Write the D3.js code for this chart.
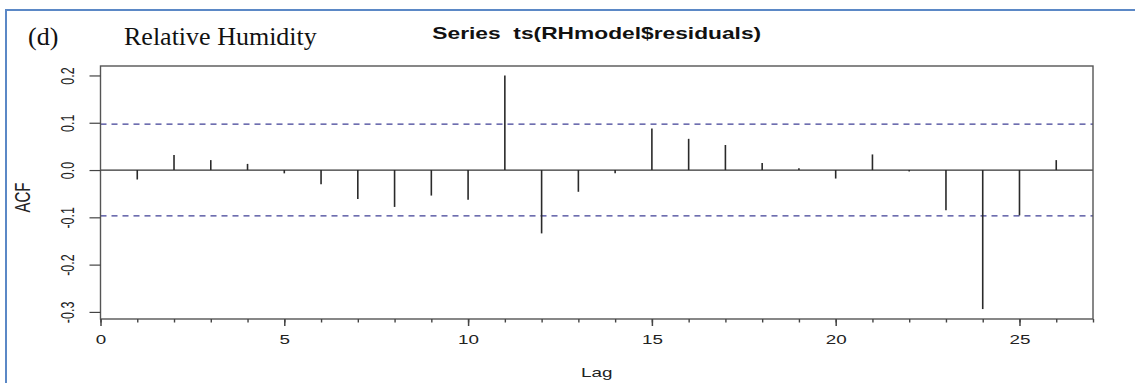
<!DOCTYPE html>
<html>
<head>
<meta charset="utf-8">
<script src="https://cdn.jsdelivr.net/npm/d3@7"></script>
<style>
  html, body { margin: 0; padding: 0; background: #fff; }
  .chart-container { width: 1135px; height: 383px; }
</style>
</head>
<body>
<div class="chart-container"></div>
<script>
// ACF values, lags 1..26
const lags = [1, 2, 3, 4, 5, 6, 7, 8, 9, 10, 11, 12, 13, 14, 15, 16, 17, 18, 19, 20, 21, 22, 23, 24, 25, 26];
const acfValues = [-0.020, 0.032, 0.021, 0.013, -0.007, -0.030, -0.061, -0.078, -0.054, -0.063,
  0.200, -0.134, -0.046, -0.007, 0.088, 0.066, 0.053, 0.015, 0.004, -0.018,
  0.033, -0.003, -0.085, -0.294, -0.096, 0.021];
const ciBound = 0.097;

const xMajorTicks = [0, 5, 10, 15, 20, 25];
const xMinorTicks = d3.range(0, 28);
const yTicks = [-0.3, -0.2, -0.1, 0.0, 0.1, 0.2];
const yTickLabels = ['-0.3', '-0.2', '-0.1', '0.0', '0.1', '0.2'];

const panelLabel = '(d)';
const panelTitle = 'Relative Humidity';
const plotTitle = 'Series  ts(RHmodel$residuals)';

const width = 1135;
const height = 383;
const plotLeft = 100.5;
const plotRight = 1093;
const plotTop = 66;
const plotBottom = 319;
const stretch = 1.45; // the R plot was pasted stretched sideways
const rFont = 'Liberation Sans, Arial, sans-serif';

const element = document.querySelector('.chart-container');

const svg = d3.select(element)
  .append('svg')
  .attr('width', width)
  .attr('height', height)
  .attr('viewBox', [0, 0, width, height]);

const x = d3.scaleLinear()
  .domain([0, 27])
  .range([plotLeft, plotRight]);

const y = d3.scaleLinear()
  .domain([-0.315, 0.22])
  .range([plotBottom, plotTop]);

// Word frame (only top and left edges are visible)
svg.append('line')
  .attr('x1', 5).attr('x2', width).attr('y1', 10).attr('y2', 10)
  .attr('stroke', '#5b88c6').attr('stroke-width', 2);
svg.append('line')
  .attr('x1', 6).attr('x2', 6).attr('y1', 9).attr('y2', height)
  .attr('stroke', '#5b88c6').attr('stroke-width', 2);

// Caption text from the document
svg.append('text')
  .attr('x', 28).attr('y', 45)
  .style('font-family', 'Liberation Serif, Times New Roman, serif')
  .style('font-size', '26px')
  .attr('fill', '#111')
  .text(panelLabel);

svg.append('text')
  .attr('x', 124).attr('y', 45)
  .style('font-family', 'Liberation Serif, Times New Roman, serif')
  .style('font-size', '26px')
  .attr('fill', '#111')
  .text(panelTitle);

// R plot title
svg.append('text')
  .attr('transform', `translate(${(plotLeft + plotRight) / 2},39) scale(${stretch},1)`)
  .attr('text-anchor', 'middle')
  .style('font-family', rFont)
  .style('font-size', '15.7px')
  .style('font-weight', 'bold')
  .style('white-space', 'pre')
  .attr('fill', '#111')
  .text(plotTitle);

// Confidence bounds
[ciBound, -ciBound].forEach(v => {
  svg.append('line')
    .attr('x1', plotLeft).attr('x2', plotRight)
    .attr('y1', y(v)).attr('y2', y(v))
    .attr('stroke', '#3f3f95')
    .attr('stroke-width', 1.2)
    .attr('stroke-dasharray', '6,5');
});

// Zero line
svg.append('line')
  .attr('x1', plotLeft).attr('x2', plotRight)
  .attr('y1', y(0)).attr('y2', y(0))
  .attr('stroke', '#333')
  .attr('stroke-width', 1.3);

// ACF spikes
svg.selectAll('line.spike')
  .data(lags)
  .join('line')
  .attr('class', 'spike')
  .attr('x1', d => x(d)).attr('x2', d => x(d))
  .attr('y1', y(0))
  .attr('y2', (d, i) => y(acfValues[i]))
  .attr('stroke', '#2a2a2a')
  .attr('stroke-width', 1.6);

// Box
svg.append('rect')
  .attr('x', plotLeft).attr('y', plotTop)
  .attr('width', plotRight - plotLeft)
  .attr('height', plotBottom - plotTop)
  .attr('fill', 'none')
  .attr('stroke', '#555')
  .attr('stroke-width', 1.4);

// Minor x ticks
svg.append('g')
  .attr('transform', `translate(0,${plotBottom})`)
  .call(d3.axisBottom(x).tickValues(xMinorTicks).tickSize(3.5).tickFormat(() => ''))
  .call(g => g.select('.domain').remove())
  .selectAll('line')
  .attr('stroke', '#444')
  .attr('stroke-width', 1.4);

// Major x ticks + labels
const xAxis = svg.append('g')
  .attr('transform', `translate(0,${plotBottom})`)
  .call(d3.axisBottom(x).tickValues(xMajorTicks).tickSize(7).tickFormat(d3.format('d')))
  .call(g => g.select('.domain').remove());
xAxis.selectAll('line')
  .attr('stroke', '#444')
  .attr('stroke-width', 1.5);
xAxis.selectAll('text')
  .attr('y', null).attr('dy', null)
  .attr('transform', `translate(0,25) scale(${stretch},1)`)
  .attr('fill', '#222')
  .style('font-family', rFont)
  .style('font-size', '13px');

// Y ticks + rotated labels
const yAxis = svg.append('g')
  .attr('transform', `translate(${plotLeft},0)`)
  .call(d3.axisLeft(y).tickValues(yTicks).tickSize(11).tickFormat((d, i) => yTickLabels[i]))
  .call(g => g.select('.domain').remove());
yAxis.selectAll('line')
  .attr('stroke', '#444')
  .attr('stroke-width', 1.2);
yAxis.selectAll('text')
  .attr('x', null).attr('dy', null)
  .attr('text-anchor', 'middle')
  .attr('transform', `translate(-27,0) scale(${stretch},1) rotate(-90)`)
  .attr('fill', '#222')
  .style('font-family', rFont)
  .style('font-size', '12.5px');

// Axis titles
svg.append('text')
  .attr('transform', `translate(${(plotLeft + plotRight) / 2},377) scale(${stretch},1)`)
  .attr('text-anchor', 'middle')
  .style('font-family', rFont)
  .style('font-size', '13px')
  .attr('fill', '#222')
  .text('Lag');

svg.append('text')
  .attr('transform', `translate(30,${(plotTop + plotBottom) / 2 + 5}) scale(${stretch},1) rotate(-90)`)
  .attr('text-anchor', 'middle')
  .style('font-family', rFont)
  .style('font-size', '15px')
  .attr('fill', '#222')
  .text('ACF');
</script>
</body>
</html>
